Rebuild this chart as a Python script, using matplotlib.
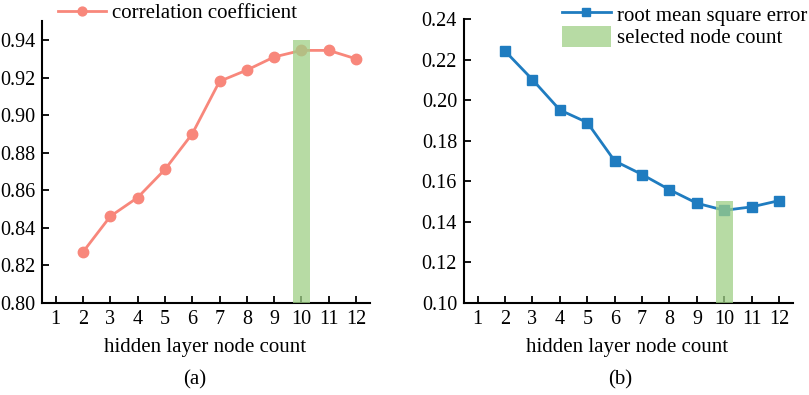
import numpy as np
import matplotlib.pyplot as plt

plt.rcParams['font.family'] = 'Liberation Serif'
plt.rcParams['font.size'] = 14

# data
nodes = [2, 3, 4, 5, 6, 7, 8, 9, 10, 11, 12]
corr = [0.827, 0.846, 0.856, 0.871, 0.890, 0.918, 0.924, 0.931, 0.9345, 0.9345, 0.930]
rmse = [0.2243, 0.2102, 0.1952, 0.1890, 0.1700, 0.1633, 0.1558, 0.1491, 0.1456, 0.1473, 0.1504]
selected = 10
xticks = list(range(1, 13))

red = '#f8877b'
blue = '#1f7cc0'
green = '#9fd086'

fig = plt.figure(figsize=(8.09, 3.95), dpi=100)
ax1 = fig.add_axes([0.052, 0.234, 0.405, 0.712])
ax2 = fig.add_axes([0.5735, 0.234, 0.4065, 0.717])

# (a) correlation coefficient
ax1.plot(nodes, corr, color=red, lw=2, marker='o', ms=7.5, label='correlation coefficient')
ax1.bar(selected, 0.94 - 0.80, bottom=0.80, width=0.6, color=green, alpha=0.75, zorder=3)
ax1.set_ylim(0.80, 0.95)
ax1.set_yticks(np.arange(0.80, 0.941, 0.02))
ax1.set_yticklabels(['%.2f' % v for v in np.arange(0.80, 0.941, 0.02)])

# (b) root mean square error
ax2.plot(nodes, rmse, color=blue, lw=2, marker='s', ms=6.5, label='root mean square error')
ax2.bar(selected, 0.15 - 0.10, bottom=0.10, width=0.6, color=green, alpha=0.75, zorder=3,
        label='selected node count')
ax2.set_ylim(0.10, 0.24)
ax2.set_yticks(np.arange(0.10, 0.241, 0.02))
ax2.set_yticklabels(['%.2f' % v for v in np.arange(0.10, 0.241, 0.02)])

for ax in (ax1, ax2):
    ax.set_xlim(0.5, 12.5)
    ax.set_xticks(xticks)
    ax.spines['top'].set_visible(False)
    ax.spines['right'].set_visible(False)
    ax.spines['left'].set_linewidth(1.5)
    ax.spines['bottom'].set_linewidth(1.5)
    ax.tick_params(direction='in', length=5, width=1.3, labelsize=14.5, pad=5)

fig.text(0.254, 0.119, 'hidden layer node count', ha='center', va='center', fontsize=15)
fig.text(0.241, 0.038, '(a)', ha='center', va='center', fontsize=15)
fig.text(0.775, 0.119, 'hidden layer node count', ha='center', va='center', fontsize=15)
fig.text(0.767, 0.038, '(b)', ha='center', va='center', fontsize=15)

fig.legend(handles=ax1.get_legend_handles_labels()[0], labels=['correlation coefficient'],
           loc='upper left', bbox_to_anchor=(0.071, 0.993), frameon=False, fontsize=15,
           handlelength=2.26, handletextpad=0.33, borderpad=0.05, borderaxespad=0,
           markerscale=0.85)
h, l = ax2.get_legend_handles_labels()
fig.legend(h, l, loc='upper left', bbox_to_anchor=(0.693, 0.995), frameon=False, fontsize=15,
           handlelength=2.35, handleheight=1.2, handletextpad=0.29, labelspacing=0.0,
           borderpad=0.05, borderaxespad=0, markerscale=0.85)

fig.savefig('out.png', dpi=100)
